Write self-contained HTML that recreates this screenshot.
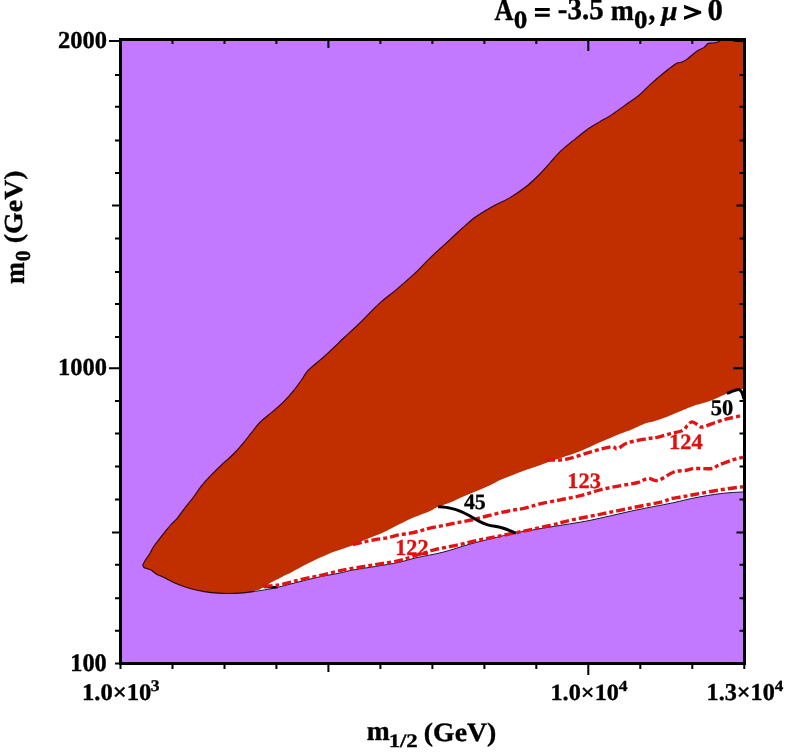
<!DOCTYPE html>
<html><head><meta charset="utf-8"><style>
html,body{margin:0;padding:0;background:#fff;overflow:hidden;}
svg{display:block;}
text{font-family:"Liberation Serif","Times New Roman",serif;font-weight:bold;stroke:currentColor;stroke-width:0.35px;text-rendering:geometricPrecision;}
</style></head><body>
<svg width="786" height="752" viewBox="0 0 786 752">
<rect x="120" y="39" width="625" height="625" fill="#c278ff"/>
<path d="M744.5,386.0C744.2,386.0 744.3,385.8 742.9,386.0C741.5,386.2 738.6,386.7 736.3,387.3C734.0,387.9 733.2,387.8 729.1,389.5C725.0,391.2 716.6,395.4 711.8,397.3C706.9,399.2 702.9,400.2 700.0,401.1C697.1,402.0 697.5,401.4 694.6,402.4C691.7,403.4 685.5,406.0 682.6,407.2C679.7,408.4 680.7,408.0 677.3,409.4C673.9,410.8 666.2,414.1 662.2,415.6C658.2,417.1 656.1,417.7 653.4,418.5C650.7,419.3 648.3,419.4 645.8,420.2C643.3,421.0 640.8,422.4 638.2,423.5C635.7,424.6 633.3,425.8 630.5,426.9C627.7,428.0 626.4,428.2 621.5,430.2C616.6,432.2 607.9,435.9 601.1,438.8C594.3,441.8 587.5,445.2 580.7,447.9C573.9,450.6 565.5,453.2 560.4,455.0C555.3,456.8 553.4,457.3 550.0,458.5C546.6,459.7 544.6,460.6 540.0,462.2C535.4,463.8 528.7,465.8 522.4,468.2C516.1,470.6 507.3,474.0 502.0,476.3C496.7,478.6 494.6,480.1 490.6,482.0C486.6,483.9 482.4,485.7 478.0,487.6C473.6,489.5 468.7,491.2 464.0,493.2C459.3,495.2 454.3,497.8 450.0,499.5C445.7,501.2 441.6,502.2 438.1,503.7C434.6,505.2 432.0,507.2 429.0,508.6C426.0,510.0 423.1,510.7 420.0,511.9C416.9,513.1 413.8,514.3 410.2,515.9C406.6,517.5 402.5,519.7 398.7,521.6C394.9,523.5 391.1,525.6 387.3,527.4C383.5,529.2 379.6,530.9 375.8,532.5C372.0,534.1 368.2,535.5 364.4,537.1C360.6,538.7 356.7,540.7 352.9,542.2C349.1,543.7 345.3,544.9 341.5,546.3C337.7,547.6 332.8,549.2 330.0,550.3C327.2,551.4 327.3,551.5 324.5,552.8C321.7,554.1 316.8,556.1 313.0,557.9C309.2,559.7 305.3,561.7 301.5,563.7C297.7,565.7 292.8,568.6 290.1,570.0C287.5,571.4 287.5,571.0 285.6,572.0C283.7,573.0 281.0,574.5 278.6,575.8C276.2,577.1 273.6,578.1 271.0,579.6C268.4,581.1 264.9,583.5 262.7,584.7C260.5,585.9 259.4,586.5 258.0,587.0C256.6,587.5 255.2,587.7 254.6,587.8L253.8,591.5C257.0,591.0 265.9,589.9 272.9,588.4C279.9,586.9 288.2,584.6 295.8,582.7C303.4,580.8 311.3,578.6 318.7,577.0C326.1,575.4 334.3,574.2 340.0,573.0C345.7,571.8 346.9,571.1 352.9,570.0C358.9,568.9 368.2,567.7 375.8,566.4C383.4,565.1 391.8,563.9 398.7,562.4C405.6,560.9 409.6,559.3 417.0,557.6C424.4,555.9 434.0,554.5 443.0,552.2C452.0,549.9 461.7,546.4 471.0,543.8C480.3,541.2 492.0,538.5 499.0,536.8C506.0,535.0 508.7,534.2 513.0,533.3C517.3,532.4 518.8,532.2 525.0,531.2C531.2,530.2 539.0,528.8 550.0,527.0C561.0,525.2 577.3,522.9 590.9,520.2C604.5,517.5 618.0,513.9 631.6,511.0C645.2,508.1 661.9,505.1 672.4,502.9C682.9,500.7 686.6,499.4 694.6,497.9C702.6,496.3 712.5,494.6 720.5,493.6C728.5,492.6 738.9,492.2 742.9,491.9C746.9,491.6 744.2,491.9 744.5,491.9Z" fill="#fff"/>
<path d="M142.7,564.9C143.1,564.1 144.4,561.7 145.3,560.2C146.2,558.8 147.1,557.5 148.0,556.2C148.9,554.9 149.8,553.5 150.6,552.2C151.4,550.9 151.8,549.6 152.6,548.3C153.4,547.0 154.1,546.0 155.3,544.3C156.5,542.6 158.4,540.3 159.9,538.3C161.4,536.3 162.8,534.5 164.6,532.3C166.4,530.1 168.5,527.3 170.6,525.0C172.7,522.7 174.8,521.2 177.2,518.3C179.6,515.4 182.4,511.2 185.1,507.7C187.8,504.1 190.9,500.6 193.6,497.0C196.3,493.4 198.3,489.9 201.1,486.4C203.9,482.8 207.2,479.2 210.6,475.7C214.0,472.1 217.6,468.6 221.3,465.1C225.0,461.6 229.4,458.1 233.0,454.5C236.6,450.9 239.6,447.4 242.6,443.8C245.6,440.2 248.3,436.7 251.1,433.2C253.9,429.7 256.1,426.2 259.6,422.6C263.1,419.1 268.2,415.4 272.3,411.9C276.4,408.3 280.4,404.9 284.0,401.3C287.6,397.8 290.7,394.2 293.6,390.6C296.5,387.1 299.1,383.4 301.5,380.0C303.9,376.6 304.4,374.3 308.1,370.4C311.9,366.5 318.1,361.9 324.0,356.6C329.9,351.3 337.2,344.2 343.2,338.5C349.2,332.8 354.2,328.5 360.2,322.6C366.2,316.8 373.4,308.9 379.4,303.4C385.4,297.9 390.7,294.4 396.4,289.6C402.1,284.8 407.7,280.0 413.4,274.7C419.1,269.4 424.3,263.6 430.4,257.7C436.5,251.8 444.6,244.6 450.0,239.6C455.4,234.6 458.6,231.5 462.8,227.7C467.1,223.9 470.5,220.6 475.5,217.0C480.5,213.4 486.9,209.6 492.6,206.4C498.3,203.2 503.9,201.3 509.6,197.9C515.3,194.5 521.6,190.1 526.6,186.2C531.6,182.3 535.5,178.4 539.4,174.5C543.3,170.6 546.5,166.7 550.0,162.8C553.5,158.9 556.7,154.8 560.6,151.1C564.5,147.4 568.8,144.1 573.4,140.4C578.0,136.7 583.9,131.8 588.3,128.7C592.7,125.6 596.1,123.9 600.0,121.6C603.9,119.3 607.4,117.6 611.5,114.9C615.6,112.2 620.3,108.6 624.8,105.4C629.2,102.2 633.8,99.5 638.2,95.8C642.7,92.1 647.0,87.4 651.5,83.4C656.0,79.4 660.8,75.3 664.9,72.0C669.0,68.7 673.4,65.0 676.3,63.4C679.2,61.8 680.2,62.9 682.1,62.1C684.0,61.3 685.3,60.5 687.8,58.6C690.3,56.8 694.4,52.9 697.1,51.0C699.8,49.1 702.4,48.6 704.2,47.4C706.0,46.1 706.6,44.2 707.8,43.5C709.0,42.8 710.2,43.2 711.4,43.1C712.6,43.0 713.7,43.0 714.9,42.8C716.1,42.6 717.5,42.1 718.5,41.7C719.5,41.3 720.2,40.7 720.6,40.5L744.5,39.5L744.5,389.0C744.2,389.0 744.3,388.8 742.9,389.0C741.5,389.2 738.6,389.7 736.3,390.3C734.0,390.9 733.2,390.8 729.1,392.5C725.0,394.2 716.6,398.4 711.8,400.3C706.9,402.2 702.9,403.2 700.0,404.1C697.1,405.0 697.5,404.4 694.6,405.4C691.7,406.4 685.5,409.0 682.6,410.2C679.7,411.4 680.7,411.0 677.3,412.4C673.9,413.8 666.2,417.1 662.2,418.6C658.2,420.1 656.1,420.7 653.4,421.5C650.7,422.3 648.3,422.4 645.8,423.2C643.3,424.0 640.8,425.4 638.2,426.5C635.7,427.6 633.3,428.8 630.5,429.9C627.7,431.0 626.4,431.2 621.5,433.2C616.6,435.2 607.9,438.9 601.1,441.8C594.3,444.8 587.5,448.2 580.7,450.9C573.9,453.6 565.5,456.2 560.4,458.0C555.3,459.8 553.4,460.3 550.0,461.5C546.6,462.7 544.6,463.6 540.0,465.2C535.4,466.8 528.7,468.8 522.4,471.2C516.1,473.6 507.3,477.0 502.0,479.3C496.7,481.6 494.6,483.1 490.6,485.0C486.6,486.9 482.4,488.7 478.0,490.6C473.6,492.5 468.7,494.2 464.0,496.2C459.3,498.2 454.3,500.8 450.0,502.5C445.7,504.2 441.6,505.2 438.1,506.7C434.6,508.2 432.0,510.2 429.0,511.6C426.0,513.0 423.1,513.7 420.0,514.9C416.9,516.1 413.8,517.3 410.2,518.9C406.6,520.5 402.5,522.7 398.7,524.6C394.9,526.5 391.1,528.6 387.3,530.4C383.5,532.2 379.6,533.9 375.8,535.5C372.0,537.1 368.2,538.5 364.4,540.1C360.6,541.7 356.7,543.7 352.9,545.2C349.1,546.7 345.3,547.9 341.5,549.3C337.7,550.6 332.8,552.2 330.0,553.3C327.2,554.4 327.3,554.5 324.5,555.8C321.7,557.1 316.8,559.1 313.0,560.9C309.2,562.7 305.3,564.7 301.5,566.7C297.7,568.7 292.8,571.6 290.1,573.0C287.5,574.4 287.5,574.0 285.6,575.0C283.7,576.0 281.0,577.5 278.6,578.8C276.2,580.1 273.6,581.1 271.0,582.6C268.4,584.1 264.9,586.5 262.7,587.7C260.5,588.9 259.4,589.5 258.0,590.0C256.6,590.5 255.2,590.7 254.6,590.8L253.8,591.5C252.5,591.7 249.0,592.3 245.8,592.6C242.6,592.9 238.2,593.3 234.4,593.4C230.6,593.5 226.7,593.5 222.9,593.4C219.1,593.3 214.6,592.9 211.5,592.6C208.4,592.3 207.1,592.1 204.2,591.6C201.3,591.1 197.4,590.4 194.0,589.5C190.6,588.6 187.3,587.7 183.9,586.5C180.5,585.3 177.1,583.9 173.7,582.4C170.3,580.9 166.3,578.7 163.5,577.3C160.7,575.9 158.6,575.4 156.6,574.2C154.6,573.0 152.7,571.1 151.3,570.2C149.9,569.3 149.2,569.4 148.0,568.9C146.8,568.4 144.9,568.2 144.0,567.5C143.1,566.8 142.9,565.3 142.7,564.9Z" fill="#c12e00"/>
<path d="M142.7,564.9C143.1,564.1 144.4,561.7 145.3,560.2C146.2,558.8 147.1,557.5 148.0,556.2C148.9,554.9 149.8,553.5 150.6,552.2C151.4,550.9 151.8,549.6 152.6,548.3C153.4,547.0 154.1,546.0 155.3,544.3C156.5,542.6 158.4,540.3 159.9,538.3C161.4,536.3 162.8,534.5 164.6,532.3C166.4,530.1 168.5,527.3 170.6,525.0C172.7,522.7 174.8,521.2 177.2,518.3C179.6,515.4 182.4,511.2 185.1,507.7C187.8,504.1 190.9,500.6 193.6,497.0C196.3,493.4 198.3,489.9 201.1,486.4C203.9,482.8 207.2,479.2 210.6,475.7C214.0,472.1 217.6,468.6 221.3,465.1C225.0,461.6 229.4,458.1 233.0,454.5C236.6,450.9 239.6,447.4 242.6,443.8C245.6,440.2 248.3,436.7 251.1,433.2C253.9,429.7 256.1,426.2 259.6,422.6C263.1,419.1 268.2,415.4 272.3,411.9C276.4,408.3 280.4,404.9 284.0,401.3C287.6,397.8 290.7,394.2 293.6,390.6C296.5,387.1 299.1,383.4 301.5,380.0C303.9,376.6 304.4,374.3 308.1,370.4C311.9,366.5 318.1,361.9 324.0,356.6C329.9,351.3 337.2,344.2 343.2,338.5C349.2,332.8 354.2,328.5 360.2,322.6C366.2,316.8 373.4,308.9 379.4,303.4C385.4,297.9 390.7,294.4 396.4,289.6C402.1,284.8 407.7,280.0 413.4,274.7C419.1,269.4 424.3,263.6 430.4,257.7C436.5,251.8 444.6,244.6 450.0,239.6C455.4,234.6 458.6,231.5 462.8,227.7C467.1,223.9 470.5,220.6 475.5,217.0C480.5,213.4 486.9,209.6 492.6,206.4C498.3,203.2 503.9,201.3 509.6,197.9C515.3,194.5 521.6,190.1 526.6,186.2C531.6,182.3 535.5,178.4 539.4,174.5C543.3,170.6 546.5,166.7 550.0,162.8C553.5,158.9 556.7,154.8 560.6,151.1C564.5,147.4 568.8,144.1 573.4,140.4C578.0,136.7 583.9,131.8 588.3,128.7C592.7,125.6 596.1,123.9 600.0,121.6C603.9,119.3 607.4,117.6 611.5,114.9C615.6,112.2 620.3,108.6 624.8,105.4C629.2,102.2 633.8,99.5 638.2,95.8C642.7,92.1 647.0,87.4 651.5,83.4C656.0,79.4 660.8,75.3 664.9,72.0C669.0,68.7 673.4,65.0 676.3,63.4C679.2,61.8 680.2,62.9 682.1,62.1C684.0,61.3 685.3,60.5 687.8,58.6C690.3,56.8 694.4,52.9 697.1,51.0C699.8,49.1 702.4,48.6 704.2,47.4C706.0,46.1 706.6,44.2 707.8,43.5C709.0,42.8 710.2,43.2 711.4,43.1C712.6,43.0 713.7,43.0 714.9,42.8C716.1,42.6 717.5,42.1 718.5,41.7C719.5,41.3 720.2,40.7 720.6,40.5" fill="none" stroke="#2a0010" stroke-width="1.1"/>
<path d="M253.8,591.5C252.5,591.7 249.0,592.3 245.8,592.6C242.6,592.9 238.2,593.3 234.4,593.4C230.6,593.5 226.7,593.5 222.9,593.4C219.1,593.3 214.6,592.9 211.5,592.6C208.4,592.3 207.1,592.1 204.2,591.6C201.3,591.1 197.4,590.4 194.0,589.5C190.6,588.6 187.3,587.7 183.9,586.5C180.5,585.3 177.1,583.9 173.7,582.4C170.3,580.9 166.3,578.7 163.5,577.3C160.7,575.9 158.6,575.4 156.6,574.2C154.6,573.0 152.7,571.1 151.3,570.2C149.9,569.3 149.2,569.4 148.0,568.9C146.8,568.4 144.9,568.2 144.0,567.5C143.1,566.8 142.9,565.3 142.7,564.9" fill="none" stroke="#2a0010" stroke-width="1.1"/>
<path d="M253.8,591.5C257.0,591.0 265.9,589.9 272.9,588.4C279.9,586.9 288.2,584.6 295.8,582.7C303.4,580.8 311.3,578.6 318.7,577.0C326.1,575.4 334.3,574.2 340.0,573.0C345.7,571.8 346.9,571.1 352.9,570.0C358.9,568.9 368.2,567.7 375.8,566.4C383.4,565.1 391.8,563.9 398.7,562.4C405.6,560.9 409.6,559.3 417.0,557.6C424.4,555.9 434.0,554.5 443.0,552.2C452.0,549.9 461.7,546.4 471.0,543.8C480.3,541.2 492.0,538.5 499.0,536.8C506.0,535.0 508.7,534.2 513.0,533.3C517.3,532.4 518.8,532.2 525.0,531.2C531.2,530.2 539.0,528.8 550.0,527.0C561.0,525.2 577.3,522.9 590.9,520.2C604.5,517.5 618.0,513.9 631.6,511.0C645.2,508.1 661.9,505.1 672.4,502.9C682.9,500.7 686.6,499.4 694.6,497.9C702.6,496.3 712.5,494.6 720.5,493.6C728.5,492.6 738.9,492.2 742.9,491.9C746.9,491.6 744.2,491.9 744.5,491.9" fill="none" stroke="#1a1030" stroke-width="1"/>
<path d="M263.8,586.9L277.5,587.2" stroke="#000" stroke-width="2.6" fill="none"/>
<g fill="none" stroke="#e01414" stroke-width="3.4" stroke-dasharray="9 3 4 3">
<path d="M263.5,586.3C265.4,586.1 272.1,585.7 275.0,585.4C277.9,585.1 278.3,585.1 281.0,584.6C283.7,584.1 287.6,583.1 291.0,582.2C294.4,581.3 296.9,580.4 301.5,579.3C306.1,578.2 312.3,577.2 318.7,575.8C325.1,574.4 335.2,571.8 340.0,570.7C344.8,569.6 343.1,570.0 347.2,569.3C351.3,568.6 358.7,567.3 364.4,566.4C370.1,565.5 375.8,564.5 381.5,563.6C387.2,562.7 393.9,561.8 398.7,560.7C403.5,559.7 406.6,558.4 410.2,557.3C413.8,556.2 415.7,555.5 420.0,554.2C424.3,552.9 429.8,550.9 436.0,549.4C442.2,547.9 450.0,546.7 457.0,545.2C464.0,543.7 471.0,541.8 478.0,540.3C485.0,538.8 491.2,537.7 499.0,536.1C506.8,534.5 516.5,532.6 525.0,530.8C533.5,529.0 542.4,527.3 550.0,525.5C557.6,523.7 562.0,522.1 570.5,520.2C579.0,518.3 590.9,516.2 601.1,514.1C611.3,512.0 621.4,509.9 631.6,507.9C641.8,505.8 655.7,503.3 662.2,501.8C668.7,500.3 667.0,499.7 670.4,498.8C673.8,497.9 678.6,497.4 682.6,496.7C686.6,496.0 688.6,495.6 694.6,494.5C700.6,493.4 710.6,491.4 718.7,490.1C726.8,488.8 739.0,487.3 743.0,486.7"/>
<path d="M352.9,544.7C354.8,544.2 360.6,542.7 364.4,541.8C368.2,540.9 372.0,540.2 375.8,539.5C379.6,538.8 383.5,538.6 387.3,537.8C391.1,537.0 394.9,535.7 398.7,534.9C402.5,534.1 406.6,533.9 410.2,533.2C413.8,532.5 416.9,531.7 420.0,530.9C423.1,530.1 425.2,529.3 429.0,528.4C432.8,527.5 438.3,526.5 443.0,525.6C447.7,524.7 452.3,523.7 457.0,522.8C461.7,521.9 466.3,521.0 471.0,520.0C475.7,519.0 480.3,517.7 485.0,516.5C489.7,515.3 494.3,514.0 499.0,513.0C503.7,511.9 508.7,511.0 513.0,510.2C517.3,509.4 520.5,509.2 525.0,508.1C529.5,507.1 534.1,505.3 540.0,503.9C545.9,502.5 553.6,501.2 560.4,499.8C567.2,498.4 573.9,497.4 580.7,495.7C587.5,494.0 594.3,491.3 601.1,489.6C607.9,487.9 615.4,486.7 621.5,485.5C627.6,484.3 633.4,483.7 637.8,482.5C642.2,481.3 644.6,478.8 648.0,478.4C651.4,478.0 653.8,481.5 658.1,480.4C662.4,479.3 669.0,473.7 673.8,472.0C678.5,470.3 683.1,470.9 686.6,470.3C690.1,469.7 690.4,468.8 694.6,468.5C698.8,468.2 707.8,469.1 711.8,468.5C715.8,467.9 715.2,466.5 718.7,465.1C722.2,463.7 728.5,461.2 732.5,459.9C736.5,458.6 741.2,457.7 743.0,457.3"/>
<path d="M546.1,460.1C549.5,459.9 559.0,460.5 566.5,459.1C574.0,457.7 583.4,453.9 590.9,451.9C598.4,449.8 606.9,447.3 611.3,446.8C615.7,446.3 614.7,449.6 617.4,448.9C620.1,448.2 622.5,444.5 627.6,442.8C632.7,441.1 643.0,439.5 647.9,438.6C652.8,437.7 653.5,438.1 657.3,437.3C661.0,436.5 666.2,434.7 670.4,433.6C674.6,432.5 679.6,431.9 682.5,430.5C685.4,429.1 686.0,426.7 687.6,425.3C689.2,423.9 690.4,422.0 692.0,421.9C693.6,421.8 695.4,423.6 697.1,424.5C698.8,425.4 699.0,427.4 702.3,427.0C705.6,426.6 712.5,423.3 717.0,421.9C721.5,420.5 724.8,419.5 729.1,418.4C733.4,417.3 740.7,415.8 743.0,415.3"/>
</g>
<g fill="none" stroke="#000" stroke-width="3">
<path d="M438.1,506.7C440.1,506.9 446.1,507.3 450.0,508.1C453.9,508.9 457.7,510.2 461.2,511.6C464.7,513.0 468.2,515.0 471.0,516.5C473.8,518.0 475.2,519.3 478.0,520.7C480.8,522.1 483.8,523.7 487.8,524.9C491.8,526.1 497.6,526.5 501.8,527.7C506.0,528.9 510.7,531.0 513.0,531.9C515.3,532.8 515.3,533.1 515.8,533.3"/>
<path d="M727.0,393.5C727.7,393.2 729.7,392.3 731.0,391.8C732.3,391.3 733.8,390.7 735.0,390.3C736.2,389.9 737.4,389.3 738.4,389.4C739.4,389.5 740.1,390.1 740.8,390.8C741.4,391.5 741.9,392.6 742.3,393.5C742.7,394.4 743.0,395.6 743.3,396.5C743.5,397.4 743.7,398.6 743.8,399.0"/>
</g>
<rect x="120.5" y="39.5" width="624" height="624" fill="none" stroke="#000" stroke-width="3"/>
<path d="M109,41H121M744,41H733.5M115,74.9H121M744,74.9H739.5M115,106.8H121M744,106.8H739.5M115,140.5H121M744,140.5H739.5M115,172.9H121M744,172.9H739.5M112,205.5H121M744,205.5H736.5M115,238.5H121M744,238.5H739.5M115,271.9H121M744,271.9H739.5M115,304.1H121M744,304.1H739.5M115,336.9H121M744,336.9H739.5M109,368.3H121M744,368.3H733.5M115,401.1H121M744,401.1H739.5M115,433.4H121M744,433.4H739.5M115,466.4H121M744,466.4H739.5M115,499.4H121M744,499.4H739.5M112,532.4H121M744,532.4H736.5M115,564.8H121M744,564.8H739.5M115,598.3H121M744,598.3H739.5M115,630.7H121M744,630.7H739.5M115,663.5H121M744,663.5H739.5M120.5,664V669M120.5,40V44M172.5,664V669M172.5,40V44M224.5,664V669M224.5,40V44M276.4,664V669M276.4,40V44M328.4,664V672M328.4,40V48M380.4,664V669M380.4,40V44M432.4,664V669M432.4,40V44M484.4,664V669M484.4,40V44M536.3,664V669M536.3,40V44M588.3,664V675M588.3,40V51M640.3,664V669M640.3,40V44M692.3,664V669M692.3,40V44M744.3,664V669M744.3,40V44" stroke="#000" stroke-width="2" fill="none"/>
<text x="200" y="200" font-size="24" transform="matrix(1.0205 0.0000 0.0000 1.0149 -145.98 -155.23)">2000</text>
<text x="200" y="200" font-size="24" transform="matrix(1.0196 0.0000 0.0000 1.0175 -145.97 171.04)">1000</text>
<text x="200" y="200" font-size="24" transform="matrix(1.0141 0.0000 0.0000 1.0515 -132.58 461.01)">100</text>
<text x="200" y="200" font-size="24" transform="matrix(1.0267 0.0000 0.0000 0.9917 -123.40 501.85)">1.0×10</text>
<text x="200" y="200" font-size="17" transform="matrix(1.0348 0.0000 0.0000 0.9558 -56.15 499.66)">3</text>
<text x="200" y="200" font-size="24" transform="matrix(1.0112 0.0000 0.0000 0.9656 348.24 506.60)">1.0×10</text>
<text x="200" y="200" font-size="17" transform="matrix(1.0326 0.0000 0.0000 0.8960 412.28 511.91)">4</text>
<text x="200" y="200" font-size="24" transform="matrix(1.0086 0.0000 0.0000 1.0064 504.83 499.08)">1.3×10</text>
<text x="200" y="200" font-size="17" transform="matrix(1.0044 0.0000 0.0000 0.9062 573.80 509.94)">4</text>
<text x="200" y="200" font-size="24" transform="matrix(0.9078 0.0000 0.0000 0.9142 282.36 325.93)">45</text>
<text x="200" y="200" font-size="24" transform="matrix(0.9378 0.0000 0.0000 0.9246 523.13 229.71)">50</text>
<text x="200" y="200" font-size="24" fill="#e01010" color="#e01010" transform="matrix(0.9247 0.0000 0.0000 0.9509 210.31 365.23)">122</text>
<text x="200" y="200" font-size="24" fill="#e01010" color="#e01010" transform="matrix(0.9310 0.0000 0.0000 0.9168 381.13 305.11)">123</text>
<text x="200" y="200" font-size="24" fill="#e01010" color="#e01010" transform="matrix(0.9385 0.0000 0.0000 0.9134 481.24 266.32)">124</text>
<text x="200" y="200" font-size="26" transform="matrix(1.0598 0.0000 0.0000 1.0632 154.71 527.23)">m</text>
<text x="200" y="200" font-size="20" transform="matrix(1.1392 0.0000 0.0000 0.9560 160.81 555.62)">1/2</text>
<text x="200" y="200" font-size="26" transform="matrix(1.0672 0.0000 0.0000 1.0156 210.43 538.18)">(GeV)</text>
<text x="200" y="200" font-size="28" transform="matrix(0.9399 0.0000 0.0000 1.1000 306.56 -199.70)">A</text>
<text x="200" y="200" font-size="22" transform="matrix(1.2340 0.0000 0.0000 1.1254 266.87 -196.96)">0</text>
<text x="200" y="200" font-size="28" style="stroke-width:1.0px" transform="matrix(1.0540 0.0000 0.0000 1.0300 323.29 -184.48)">=</text>
<text x="200" y="200" font-size="28" transform="matrix(1.0319 0.0000 0.0000 1.1000 351.49 -200.90)">-3.5</text>
<text x="200" y="200" font-size="28" transform="matrix(0.9886 0.0000 0.0000 1.0409 412.94 -187.92)">m</text>
<text x="200" y="200" font-size="22" transform="matrix(1.2224 0.0000 0.0000 1.1434 389.42 -200.99)">0</text>
<text x="200" y="200" font-size="28" transform="matrix(0.9783 0.0000 0.0000 1.1067 452.84 -201.25)">,</text>
<text x="200" y="200" font-size="28" font-style="italic" transform="matrix(1.0301 0.0000 0.0000 0.9935 455.42 -179.07)">μ</text>
<text x="200" y="200" font-size="28" style="stroke-width:1.6px" transform="matrix(1.1793 0.0000 0.0000 0.9291 447.44 -164.99)">&gt;</text>
<text x="200" y="200" font-size="28" transform="matrix(1.1000 0.0000 0.0000 1.1000 487.60 -199.80)">0</text>
<text x="200" y="200" font-size="26" transform="matrix(0.0000 -1.0162 1.0835 0.0000 -193.00 487.33)">m</text>
<text x="200" y="200" font-size="20" transform="matrix(0.0000 -1.0902 1.0675 0.0000 -183.19 479.27)">0</text>
<text x="200" y="200" font-size="26" transform="matrix(0.0000 -1.0728 1.0034 0.0000 -178.78 457.78)">(GeV)</text>
</svg>
</body></html>
